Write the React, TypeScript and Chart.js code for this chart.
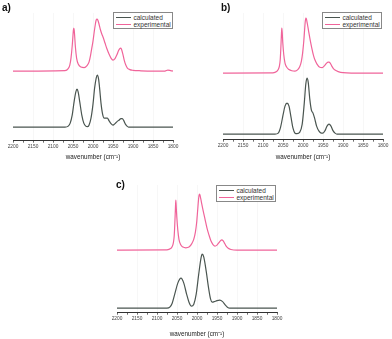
import React, { useEffect, useRef } from "react";
import { Chart, registerables } from "chart.js";

Chart.register(...registerables);

// ---------- DATA (wavenumber in cm-1, intensity in arbitrary units) ----------
const xTicksMajor = [2200, 2150, 2100, 2050, 2000, 1950, 1900, 1850, 1800];

// Panel a
const aExpX = [2200, 2070, 2062, 2058, 2055, 2052, 2050, 2049, 2048, 2047, 2046, 2044, 2041, 2037, 2030, 2022, 2015, 2010, 2006, 2003, 2000, 1997, 1994, 1992, 1990, 1988, 1985, 1982, 1978, 1975, 1970, 1965, 1960, 1955, 1950, 1945, 1940, 1936, 1933, 1931, 1929, 1926, 1922, 1918, 1914, 1908, 1900, 1880, 1850, 1820, 1813, 1806, 1800];
const aExpY = [69, 69.5, 71.5, 75, 82, 94, 105, 110, 112, 110, 105, 93, 82, 76, 73, 72.5, 74.5, 78, 85, 92, 99, 108, 116, 120, 121, 120, 116, 111, 106, 103, 97, 91, 86, 82, 80, 81.5, 85.5, 89.5, 91.5, 92, 91, 87, 80, 75, 72, 70.5, 69.8, 69.3, 69, 69, 70, 69.5, 69];
const aCalcX = [2200, 2070, 2062, 2057, 2052, 2047, 2043, 2040, 2037, 2033, 2028, 2023, 2018, 2014, 2010, 2005, 2000, 1996, 1992, 1989, 1986, 1983, 1980, 1976, 1972, 1968, 1964, 1960, 1955, 1950, 1945, 1940, 1935, 1930, 1927, 1923, 1919, 1915, 1911, 1800];
const aCalcY = [13, 13, 14, 17, 25, 39, 48, 51, 48, 38, 25, 17, 14, 13.5, 15, 22, 36, 52, 62, 65, 61, 50, 37, 26, 22, 22, 22, 19.5, 16.5, 15, 16.5, 18.5, 20, 21.5, 21.5, 19.5, 16, 14, 13, 13];

// Panel b
const bExpX = [2200, 2075, 2066, 2062, 2059, 2057, 2055.5, 2054, 2053, 2052, 2050.5, 2048, 2045, 2041, 2035, 2028, 2020, 2013, 2008, 2004, 2001, 1998, 1996, 1994.5, 1993, 1991.5, 1989, 1986, 1982, 1978, 1974, 1970, 1965, 1958, 1952, 1946, 1941, 1937, 1935, 1932, 1928, 1924, 1920, 1912, 1900, 1850, 1800];
const bExpY = [66, 66.2, 67.5, 69.5, 73, 79, 90, 104, 111, 107, 96, 84, 76, 72, 69.5, 68.3, 68, 69.5, 72.5, 78, 86, 98, 109, 117, 121, 120, 115, 108, 99, 91, 84, 79, 75, 71.8, 71.5, 73.5, 76, 77, 77, 76, 73, 70.5, 69, 67.5, 66.5, 66, 66];
const bCalcX = [2200, 2070, 2062, 2056, 2050, 2045, 2040, 2035, 2030, 2025, 2020, 2015, 2008, 2002, 1997, 1993, 1990, 1987, 1983, 1979, 1975, 1971, 1966, 1960, 1954, 1950, 1945, 1940, 1935, 1930, 1925, 1920, 1915, 1800];
const bCalcY = [5, 5, 6, 12, 24, 33, 36, 33, 22, 11, 6, 5.5, 7, 15, 35, 55, 61, 57, 40, 29, 26, 21, 13, 8, 6, 6, 8.5, 13, 15, 13, 8.5, 6, 5, 5];

// Panel c
const cExpX = [2200, 2075, 2066, 2062, 2059, 2057, 2055.5, 2054, 2053, 2052, 2050.5, 2048, 2045, 2041, 2035, 2028, 2020, 2013, 2008, 2004, 2001, 1998.5, 1996.5, 1995, 1993.5, 1992, 1989, 1986, 1980, 1975, 1970, 1965, 1960, 1955, 1950, 1945, 1941, 1938, 1935, 1932, 1928, 1922, 1915, 1900, 1800];
const cExpY = [62, 62.2, 63.5, 65.5, 69.5, 76, 88, 103, 112, 106, 95, 82, 72.5, 67.5, 65, 64.3, 65, 68.5, 73, 80, 89, 101, 111, 116.5, 118, 116, 110, 104, 93, 84, 77, 71, 67.5, 66, 67, 69.5, 71.5, 72.3, 71.5, 69.5, 66.5, 63.8, 62.6, 62, 62];
const cCalcX = [2200, 2075, 2068, 2062, 2055, 2048, 2040, 2033, 2026, 2020, 2014, 2008, 2002, 1996, 1990, 1987, 1983, 1977, 1971, 1966, 1962, 1957, 1950, 1943, 1936, 1930, 1924, 1918, 1800];
const cCalcY = [4, 4, 5, 9, 19, 29, 34, 29, 18, 10, 6, 8, 18, 37, 54, 58, 55, 41, 24, 13, 10, 10.5, 11.5, 12, 10.5, 7.5, 5, 4, 4];

const seriesNames = ["calculated", "experimental"];
const CALC_COLOR = "#4a5550";
const EXP_COLOR = "#f0649a";
const FONT = "'Liberation Sans', Arial, Helvetica, sans-serif";

type PanelProps = {
  left: number;
  top: number;
  width: number;
  height: number;
  pad: { left: number; right: number; top: number; bottom: number };
  titlePadTop: number;
  yMax: number;
  label: string;
  labelPos: { x: number; y: number };
  legendPos: { x: number; y: number; w: number; h: number };
  expX: number[];
  expY: number[];
  calcX: number[];
  calcY: number[];
};

function toPoints(xs: number[], ys: number[]) {
  return xs.map((x, i) => ({ x, y: ys[i] }));
}

function Panel(p: PanelProps) {
  const ref = useRef<HTMLCanvasElement | null>(null);
  useEffect(() => {
    if (!ref.current) return;
    const chart = new Chart(ref.current, {
      type: "line",
      data: {
        datasets: [
          {
            label: seriesNames[0],
            data: toPoints(p.calcX, p.calcY),
            borderColor: CALC_COLOR,
            borderWidth: 1.2,
            pointRadius: 0,
            cubicInterpolationMode: "monotone",
            fill: false,
          },
          {
            label: seriesNames[1],
            data: toPoints(p.expX, p.expY),
            borderColor: EXP_COLOR,
            borderWidth: 1.2,
            pointRadius: 0,
            cubicInterpolationMode: "monotone",
            fill: false,
          },
        ],
      },
      options: {
        animation: false,
        responsive: false,
        maintainAspectRatio: false,
        layout: { padding: p.pad },
        plugins: { legend: { display: false }, tooltip: { enabled: false } },
        scales: {
          x: {
            type: "linear",
            min: 1800,
            max: 2200,
            reverse: true,
            afterBuildTicks: (axis: any) => {
              const t: any[] = [];
              for (let v = 2200; v >= 1800; v -= 25) t.push({ value: v });
              axis.ticks = t;
            },
            ticks: {
              autoSkip: false,
              maxRotation: 0,
              padding: 1.5,
              color: "#444",
              font: { family: FONT, size: 4.8 },
              callback: (v: any) => (xTicksMajor.includes(Number(v)) ? String(v) : ""),
            },
            grid: {
              color: (ctx: any) =>
                ctx.tick && Number(ctx.tick.value) % 50 === 0 && ctx.tick.value !== 2200 && ctx.tick.value !== 1800
                  ? "rgba(0,0,0,0.045)"
                  : "rgba(0,0,0,0)",
              tickColor: "#444",
              tickLength: 2.5,
              lineWidth: 0.8,
            },
            border: { color: "#333", width: 1 },
            title: {
              display: true,
              text: "wavenumber (cm⁻¹)",
              color: "#222",
              font: { family: FONT, size: 6.3 },
              padding: { top: p.titlePadTop, bottom: 0 },
            },
          },
          y: { display: false, min: 0, max: p.yMax },
        },
      },
    });
    return () => chart.destroy();
  }, []);

  const legendRow = (color: string, text: string) => (
    <div style={{ display: "flex", alignItems: "center", height: 7.5 }}>
      <div style={{ width: 15, height: 1.2, background: color, marginLeft: 2, marginRight: 2.5 }} />
      <span style={{ fontSize: 6.5, color: "#333", fontFamily: FONT, lineHeight: "7px", whiteSpace: "nowrap" }}>{text}</span>
    </div>
  );

  return (
    <>
      <canvas
        ref={ref}
        width={p.width}
        height={p.height}
        style={{ position: "absolute", left: p.left, top: p.top, width: p.width, height: p.height }}
      />
      <div
        style={{
          position: "absolute",
          left: p.labelPos.x,
          top: p.labelPos.y,
          fontFamily: FONT,
          fontWeight: "bold",
          fontSize: 10,
          lineHeight: "10px",
          color: "#111",
        }}
      >
        {p.label}
      </div>
      <div
        style={{
          position: "absolute",
          left: p.legendPos.x,
          top: p.legendPos.y,
          width: p.legendPos.w,
          height: p.legendPos.h,
          border: "0.8px solid #888",
          boxSizing: "border-box",
          background: "#fff",
          paddingTop: 0.5,
        }}
      >
        {legendRow(CALC_COLOR, seriesNames[0])}
        {legendRow(EXP_COLOR, seriesNames[1])}
      </div>
    </>
  );
}

export default function App() {
  return (
    <div style={{ position: "absolute", left: 0, top: 0, width: 392, height: 339, background: "#fff", overflow: "hidden" }}>
      <Panel
        left={0}
        top={0}
        width={190}
        height={165}
        pad={{ left: 13, right: 17, top: 13, bottom: 4 }}
        titlePadTop={2}
        yMax={127}
        label="a)"
        labelPos={{ x: 2, y: 3 }}
        legendPos={{ x: 113, y: 12, w: 60, h: 17 }}
        expX={aExpX}
        expY={aExpY}
        calcX={aCalcX}
        calcY={aCalcY}
      />
      <Panel
        left={205}
        top={0}
        width={187}
        height={165}
        pad={{ left: 18, right: 9, top: 13, bottom: 4 }}
        titlePadTop={3}
        yMax={126}
        label="b)"
        labelPos={{ x: 221, y: 3 }}
        legendPos={{ x: 322, y: 12, w: 60, h: 17 }}
        expX={bExpX}
        expY={bExpY}
        calcX={bCalcX}
        calcY={bCalcY}
      />
      <Panel
        left={100}
        top={172}
        width={195}
        height={167}
        pad={{ left: 17, right: 18, top: 13, bottom: 1 }}
        titlePadTop={7}
        yMax={127}
        label="c)"
        labelPos={{ x: 116, y: 180 }}
        legendPos={{ x: 216, y: 185, w: 60, h: 17 }}
        expX={cExpX}
        expY={cExpY}
        calcX={cCalcX}
        calcY={cCalcY}
      />
    </div>
  );
}
